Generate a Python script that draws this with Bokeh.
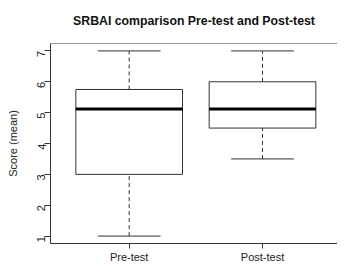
import math
from bokeh.plotting import figure
from bokeh.models import FixedTicker, Span, Range1d
from bokeh.embed import file_html
from bokeh.resources import INLINE

# data
categories = ["Pre-test", "Post-test"]
positions = [1, 2]
lower_whisker = [1.0, 3.5]
q1 = [3.0, 4.5]
median = [5.12, 5.12]
q3 = [5.75, 6.0]
upper_whisker = [7.0, 7.0]
y_ticks = [1, 2, 3, 4, 5, 6, 7]

FONT = "Liberation Sans"
BOX_W = 0.8
CAP_W = 0.47
LINE = "#333333"

p = figure(width=337, height=265, output_backend="svg", toolbar_location=None,
           x_range=Range1d(0.41, 2.5625), y_range=Range1d(0.76, 7.24),
           title="SRBAI comparison Pre-test and Post-test",
           min_border_left=50, min_border_right=0, min_border_bottom=0, min_border_top=0,
           min_border=0)
p.outline_line_color = None
p.grid.visible = False
p.background_fill_color = "white"
p.border_fill_color = "white"

p.title.text_font = FONT
p.title.text_font_size = "12.3px"
p.title.text_font_style = "bold"
p.title.align = "center"
p.title.vertical_align = "top"
p.title.text_color = "#111111"
p.title.standoff = 27

# whiskers
xs = positions
p.segment(x0=xs, y0=q3, x1=xs, y1=upper_whisker, line_color=LINE, line_dash="4 3", line_width=1)
p.segment(x0=xs, y0=lower_whisker, x1=xs, y1=q1, line_color=LINE, line_dash="4 3", line_width=1)
p.segment(x0=[x - CAP_W / 2 for x in xs], y0=upper_whisker, x1=[x + CAP_W / 2 for x in xs], y1=upper_whisker,
          line_color=LINE, line_width=1)
p.segment(x0=[x - CAP_W / 2 for x in xs], y0=lower_whisker, x1=[x + CAP_W / 2 for x in xs], y1=lower_whisker,
          line_color=LINE, line_width=1)
# boxes
p.vbar(x=xs, width=BOX_W, bottom=q1, top=q3, fill_color="white", line_color=LINE, line_width=1)
# medians
p.segment(x0=[x - BOX_W / 2 for x in xs], y0=median, x1=[x + BOX_W / 2 for x in xs], y1=median,
          line_color="black", line_width=3)

# top border
p.add_layout(Span(location=7.24, dimension="width", line_color=LINE, line_width=1))

# axes
p.xaxis.ticker = FixedTicker(ticks=positions)
p.xaxis.major_label_overrides = {pos: c for pos, c in zip(positions, categories)}
p.xaxis.axis_label = None
p.xaxis.axis_label_standoff = 0
p.yaxis.ticker = FixedTicker(ticks=y_ticks)
p.yaxis.axis_label = "Score (mean)"
p.yaxis.major_label_orientation = math.pi / 2
for ax in (p.xaxis[0], p.yaxis[0]):
    ax.axis_line_color = LINE
    ax.major_tick_line_color = LINE
    ax.minor_tick_line_color = None
    ax.major_tick_in = 0
    ax.major_label_text_font = FONT
    ax.major_label_text_font_size = "11px"
    ax.major_label_text_color = "#222222"
    ax.axis_label_text_font = FONT
    ax.axis_label_text_font_size = "11px"
    ax.axis_label_text_font_style = "normal"
    ax.axis_label_text_color = "#222222"
p.xaxis.major_tick_out = 5
p.yaxis.major_tick_out = 6
p.xaxis.major_label_standoff = 2
p.yaxis.major_label_standoff = 3
p.yaxis.axis_label_standoff = 12

open("out.html", "w").write(file_html(p, INLINE))
